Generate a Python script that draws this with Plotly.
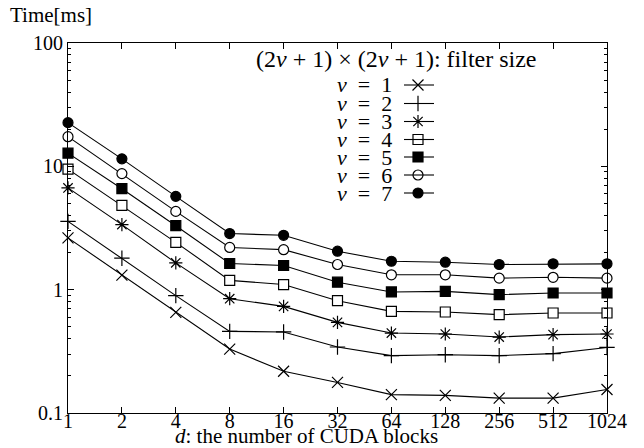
import math
import plotly.graph_objects as go

blocks = [1, 2, 4, 8, 16, 32, 64, 128, 256, 512, 1024]
tick_labels = ["1", "2", "4", "8", "16", "32", "64", "128", "256", "512", "1024"]

v1 = [2.63, 1.31, 0.655, 0.330, 0.218, 0.177, 0.141, 0.139, 0.132, 0.132, 0.155]
v2 = [3.58, 1.80, 0.894, 0.459, 0.454, 0.343, 0.292, 0.297, 0.292, 0.303, 0.340]
v3 = [6.68, 3.37, 1.65, 0.845, 0.732, 0.543, 0.445, 0.437, 0.413, 0.432, 0.437]
v4 = [9.5, 4.83, 2.42, 1.19, 1.10, 0.814, 0.667, 0.659, 0.627, 0.647, 0.647]
v5 = [12.8, 6.59, 3.30, 1.63, 1.57, 1.15, 0.958, 0.969, 0.911, 0.940, 0.940]
v6 = [17.4, 8.73, 4.31, 2.20, 2.11, 1.60, 1.32, 1.32, 1.24, 1.26, 1.24]
v7 = [22.6, 11.5, 5.71, 2.85, 2.76, 2.05, 1.70, 1.67, 1.60, 1.62, 1.62]

series_names = ["<i>v</i>&nbsp;&nbsp;=&nbsp;&nbsp;1", "<i>v</i>&nbsp;&nbsp;=&nbsp;&nbsp;2",
                "<i>v</i>&nbsp;&nbsp;=&nbsp;&nbsp;3", "<i>v</i>&nbsp;&nbsp;=&nbsp;&nbsp;4",
                "<i>v</i>&nbsp;&nbsp;=&nbsp;&nbsp;5", "<i>v</i>&nbsp;&nbsp;=&nbsp;&nbsp;6",
                "<i>v</i>&nbsp;&nbsp;=&nbsp;&nbsp;7"]
series_values = [v1, v2, v3, v4, v5, v6, v7]
# (symbol, fill colour)
styles = [("x-thin", "black"), ("cross-thin", "black"), ("asterisk", "black"),
          ("square", "white"), ("square", "black"), ("circle", "white"), ("circle", "black")]

FONT = "Liberation Serif"
W, H = 644, 448
L, R, T, B = 68, 37, 43, 35
PW, PH = W - L - R, H - T - B

def px_to_paper(x, y):
    return (x - L) / PW, (H - B - y) / PH

def msize(sym):
    return 11 if sym in ("x-thin", "cross-thin", "asterisk") else 10

fig = go.Figure()

for name, vals, (sym, fill) in zip(series_names, series_values, styles):
    fig.add_trace(go.Scatter(
        x=blocks, y=vals, mode="lines+markers", name=name,
        line=dict(color="black", width=1.1),
        marker=dict(symbol=sym, size=msize(sym), color=fill,
                    line=dict(color="black", width=1.2)),
        cliponaxis=False, showlegend=False,
    ))

# manual legend (symbol on the right of the text, as in the reference)
legend_rows_y = [85, 103.5, 121.5, 139.5, 157, 175, 193]
leg_text_right = 394
leg_line_x0, leg_line_x1, leg_mark_x = 404, 434, 418
for i, (name, (sym, fill)) in enumerate(zip(series_names, styles)):
    y = legend_rows_y[i]
    px, py = px_to_paper(leg_text_right, y)
    fig.add_annotation(x=px, y=py, xref="paper", yref="paper", text=name,
                       showarrow=False, xanchor="right", yanchor="middle",
                       font=dict(family=FONT, size=22, color="black"))
    lx0, ly = px_to_paper(leg_line_x0, y)
    lx1, _ = px_to_paper(leg_line_x1, y)
    fig.add_shape(type="line", xref="paper", yref="paper", x0=lx0, x1=lx1,
                  y0=ly, y1=ly, line=dict(color="black", width=1.1))
    mx, my = px_to_paper(leg_mark_x, y)
    fig.add_trace(go.Scatter(
        x=[mx], y=[my], xaxis="x2", yaxis="y2", mode="markers",
        marker=dict(symbol=sym, size=msize(sym), color=fill,
                    line=dict(color="black", width=1.2)),
        showlegend=False, hoverinfo="skip", cliponaxis=False,
    ))

tx, ty = px_to_paper(396, 59)
fig.add_annotation(x=tx, y=ty, xref="paper", yref="paper",
                   text="(2<i>v</i> + 1) × (2<i>v</i> + 1): filter size",
                   showarrow=False, xanchor="center", yanchor="middle",
                   font=dict(family=FONT, size=24, color="black"))

ax, ay = px_to_paper(8, 15)
fig.add_annotation(x=ax, y=ay, xref="paper", yref="paper", text="Time[ms]",
                   showarrow=False, xanchor="left", yanchor="middle",
                   font=dict(family=FONT, size=21, color="black"))

bx, by = px_to_paper(306, 436)
fig.add_annotation(x=bx, y=by, xref="paper", yref="paper",
                   text="<i>d</i>: the number of CUDA blocks",
                   showarrow=False, xanchor="center", yanchor="middle",
                   font=dict(family=FONT, size=21, color="black"))

fig.update_layout(
    width=W, height=H,
    margin=dict(l=L, r=R, t=T, b=B, pad=0),
    paper_bgcolor="white", plot_bgcolor="white",
    font=dict(family=FONT, size=20, color="black"),
    showlegend=False,
    xaxis=dict(type="log", range=[0, math.log10(1024)],
               tickvals=blocks, ticktext=tick_labels,
               ticks="inside", ticklen=6, tickcolor="black", tickwidth=1,
               ticklabelstandoff=-10,
               showline=True, linecolor="black", linewidth=1.2, mirror="ticks",
               showgrid=False, zeroline=False,
               tickfont=dict(family=FONT, size=20, color="black")),
    yaxis=dict(type="log", range=[-1, 2],
               tickvals=[0.1, 1, 10, 100], ticktext=["0.1", "1", "10", "100"],
               ticks="inside", ticklen=6, tickcolor="black", tickwidth=1,
               minor=dict(ticks="inside", ticklen=3, tickcolor="black",
                          dtick="D1", showgrid=False),
               showline=True, linecolor="black", linewidth=1.2, mirror="ticks",
               showgrid=False, zeroline=False,
               tickfont=dict(family=FONT, size=20, color="black")),
    xaxis2=dict(overlaying="x", range=[0, 1], visible=False, fixedrange=True),
    yaxis2=dict(overlaying="y", range=[0, 1], visible=False, fixedrange=True),
)

fig.write_html("out.html", config={"displayModeBar": False},
               post_script="document.body.style.margin='0px';document.body.style.padding='0px';")
